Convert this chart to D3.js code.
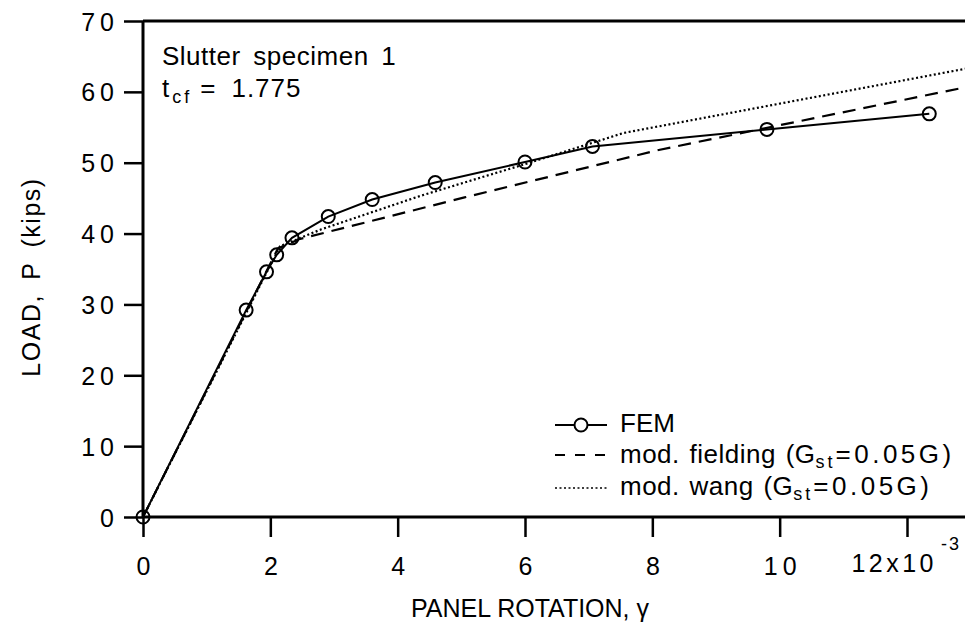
<!DOCTYPE html>
<html><head><meta charset="utf-8">
<script src="https://cdn.jsdelivr.net/npm/d3@7"></script>
<style>
body{margin:0;background:#fff;}
svg{display:block;font-family:"Liberation Sans",Arial,Helvetica,sans-serif;}
</style></head>
<body><svg id="c" width="965" height="623"></svg>
<script>
// FEM results
const femX = [0, 1.62, 1.94, 2.10, 2.34, 2.91, 3.60, 4.59, 6.00, 7.06, 9.80, 12.35];
const femY = [0, 29.2, 34.6, 37.0, 39.4, 42.4, 44.8, 47.2, 50.1, 52.3, 54.7, 56.9];
// mod. fielding (Gst=0.05G)
const fieldX = [0, 2.12, 2.45, 5.05, 8.10, 13.0];
const fieldY = [0, 37.9, 39.2, 45.1, 51.8, 60.8];
// mod. wang (Gst=0.05G)
const wangX = [0, 2.15, 2.80, 4.35, 6.00, 7.55, 13.0];
const wangY = [0, 38.2, 40.6, 45.3, 49.8, 54.2, 63.4];
const xTicks = [0, 2, 4, 6, 8, 10, 12];
const yTicks = [0, 10, 20, 30, 40, 50, 60, 70];

const svg = d3.select("#c");
const x = d3.scaleLinear().domain([0, 12]).range([143, 907]);
const y = d3.scaleLinear().domain([0, 70]).range([517, 21]);
const X0 = x(0), Y0 = y(0), YT = y(70);

// axes
const gy = svg.append("g").attr("transform", `translate(${X0},0)`)
  .call(d3.axisLeft(y).tickValues(yTicks).tickSize(19).tickPadding(5).tickFormat(d => d));
gy.select(".domain").remove();
gy.selectAll(".tick line").attr("stroke", "#000").attr("stroke-width", 2.5);
gy.selectAll(".tick text").attr("font-size", 25).attr("letter-spacing", 5)
  .attr("fill", "#000").attr("dy", "0.36em").attr("font-family", "Liberation Sans, Arial, sans-serif");

const gx = svg.append("g").attr("transform", `translate(0,${Y0})`)
  .call(d3.axisBottom(x).tickValues(xTicks).tickSize(20).tickPadding(20).tickFormat(d => d === 12 ? "" : d));
gx.select(".domain").remove();
gx.selectAll(".tick line").attr("stroke", "#000").attr("stroke-width", 2.5);
gx.selectAll(".tick text").attr("font-size", 25).attr("letter-spacing", 5)
  .attr("fill", "#000").attr("dy", "0.71em").attr("font-family", "Liberation Sans, Arial, sans-serif")
  .attr("dx", 2.5);

// 12x10^-3 label
svg.append("text").attr("x", x(12) + 30).attr("y", 572).attr("text-anchor", "end")
  .attr("font-size", 25).attr("letter-spacing", 3.5).text("12x10");
svg.append("text").attr("x", x(12) + 34).attr("y", 550)
  .attr("font-size", 18).attr("letter-spacing", 2).text("-3");

// axis lines and top frame
svg.append("line").attr("x1", X0).attr("x2", X0).attr("y1", YT).attr("y2", Y0)
  .attr("stroke", "#000").attr("stroke-width", 3);
svg.append("line").attr("x1", X0).attr("x2", 965).attr("y1", Y0).attr("y2", Y0)
  .attr("stroke", "#000").attr("stroke-width", 3);
svg.append("line").attr("x1", X0).attr("x2", 965).attr("y1", YT).attr("y2", YT)
  .attr("stroke", "#000").attr("stroke-width", 3);

// series
const line = d3.line().x(d => x(d[0])).y(d => y(d[1]));
const fem = femX.map((v, i) => [v, femY[i]]);
const field = fieldX.map((v, i) => [v, fieldY[i]]);
const wang = wangX.map((v, i) => [v, wangY[i]]);

svg.append("path").datum(field).attr("d", line).attr("fill", "none")
  .attr("stroke", "#000").attr("stroke-width", 2.2).attr("stroke-dasharray", "13,8");
svg.append("path").datum(wang).attr("d", line).attr("fill", "none")
  .attr("stroke", "#000").attr("stroke-width", 2.2).attr("stroke-dasharray", "2,2.5");
svg.append("path").datum(fem).attr("d", line).attr("fill", "none")
  .attr("stroke", "#000").attr("stroke-width", 2);
svg.append("g").selectAll("circle").data(fem).join("circle")
  .attr("cx", d => x(d[0])).attr("cy", d => y(d[1])).attr("r", 6.5)
  .attr("fill", "none").attr("stroke", "#000").attr("stroke-width", 2);

// axis titles
svg.append("text").attr("transform", "translate(40,277) rotate(-90)")
  .attr("text-anchor", "middle").attr("font-size", 25).attr("letter-spacing", 1.5)
  .attr("word-spacing", 6).text("LOAD, P (kips)");
svg.append("text").attr("x", 530).attr("y", 617).attr("text-anchor", "middle")
  .attr("font-size", 25).text("PANEL ROTATION, γ");

// annotation
svg.append("text").attr("x", 162).attr("y", 65).attr("font-size", 26)
  .attr("letter-spacing", 0.5).attr("word-spacing", 5).text("Slutter specimen 1");
const t2 = svg.append("text").attr("x", 162).attr("y", 97).attr("font-size", 26);
t2.append("tspan").text("t");
t2.append("tspan").attr("font-size", 18).attr("dy", 6).attr("dx", 3).attr("letter-spacing", 3).text("cf");
t2.append("tspan").attr("dy", -6).attr("dx", 8).text("=");
t2.append("tspan").attr("dx", 16).attr("letter-spacing", 1).text("1.775");

// legend
const lg = svg.append("g");
const lx1 = 555, lx2 = 607, tx = 620;
const rows = [
  {y: 425, dash: null, marker: true},
  {y: 455, dash: "10,10", marker: false},
  {y: 488, dash: "2,2.5", marker: false}
];
rows.forEach(r => {
  lg.append("line").attr("x1", lx1).attr("x2", lx2).attr("y1", r.y).attr("y2", r.y)
    .attr("stroke", "#000").attr("stroke-width", r.dash === "2,2.5" ? 1.6 : 2)
    .attr("stroke-dasharray", r.dash);
  if (r.marker) lg.append("circle").attr("cx", (lx1 + lx2) / 2).attr("cy", r.y).attr("r", 6.5)
    .attr("fill", "#fff").attr("stroke", "#000").attr("stroke-width", 2);
});
lg.append("text").attr("x", tx).attr("y", 432).attr("font-size", 26).text("FEM");
function legText(yb, name) {
  const t = lg.append("text").attr("x", tx).attr("y", yb).attr("font-size", 26);
  t.append("tspan").attr("word-spacing", 2).attr("letter-spacing", 0.5).text(name + " (G");
  t.append("tspan").attr("font-size", 18).attr("dy", 5).attr("letter-spacing", 3).text("st");
  t.append("tspan").attr("dy", -5).attr("letter-spacing", 3.5).text("=0.05G)");
}
legText(463, "mod. fielding");
legText(495, "mod. wang");
</script></body></html>
